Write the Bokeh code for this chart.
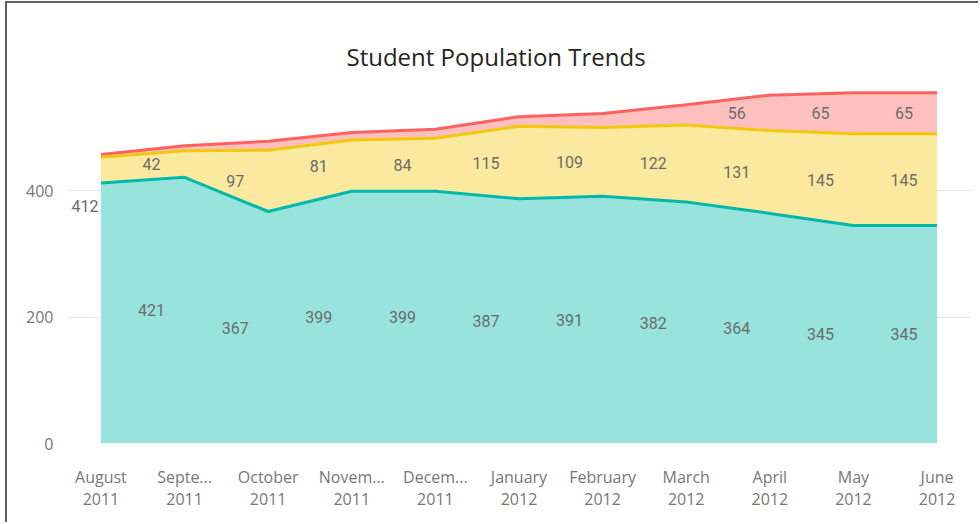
from bokeh.plotting import figure
from bokeh.models import ColumnDataSource, FixedTicker, Range1d
from bokeh.transform import stack
from bokeh.core.properties import value
from bokeh.embed import file_html
from bokeh.resources import INLINE

# ---- data ----
months = ["August\n2011", "Septe...\n2011", "October\n2011", "Novem...\n2011", "Decem...\n2011",
          "January\n2012", "February\n2012", "March\n2012", "April\n2012", "May\n2012", "June\n2012"]
teal_vals = [412, 421, 367, 399, 399, 387, 391, 382, 364, 345, 345]
yellow_vals = [41, 42, 97, 81, 84, 115, 109, 122, 131, 145, 145]
red_vals = [4, 8, 14, 12, 14, 15, 22, 32, 56, 65, 65]
y_ticks = [0, 200, 400]

TEAL, YELLOW, RED = "#01B8AA", "#F2C80F", "#FD625E"
TEAL_F, YELLOW_F, RED_F = "#99E3DD", "#FAE99F", "#FEC0BF"

xs = list(range(len(months)))
src = ColumnDataSource(dict(x=xs, teal=teal_vals, yellow=yellow_vals, red=red_vals))

p = figure(width=973, height=521, output_backend="svg", toolbar_location=None,
           x_range=Range1d(-0.4, len(months) - 0.6), y_range=Range1d(0, 560),
           min_border_left=60, min_border_right=10, min_border_top=86, min_border_bottom=81)
p.styles = {"margin-left": "5px", "margin-top": "1px",
            "border-left": "2px solid #5f5f5f", "border-top": "2px solid #5f5f5f"}

p.title.text = "Student Population Trends"
p.title.align = "left"
p.title.offset = 279
p.title.text_font = "Open Sans"
p.title.text_font_size = "24px"
p.title.text_font_style = "normal"
p.title.text_color = "#252423"
p.title.standoff = 34

p.varea_stack(stackers=["teal", "yellow", "red"], x="x", color=[TEAL_F, YELLOW_F, RED_F], source=src)
p.line(x="x", y=stack("teal", "yellow", "red"), line_color=RED, line_width=3, source=src)
p.line(x="x", y=stack("teal", "yellow"), line_color=YELLOW, line_width=3, source=src)
p.line(x="x", y=stack("teal"), line_color=TEAL, line_width=3, source=src)

# data labels (centered in each band)
lab_x, lab_y, lab_t = [], [], []
for i in xs:
    if i > 0:
        lab_x.append(i); lab_y.append(teal_vals[i] / 2); lab_t.append(str(teal_vals[i]))
        lab_x.append(i); lab_y.append(teal_vals[i] + yellow_vals[i] / 2); lab_t.append(str(yellow_vals[i]))
    if red_vals[i] >= 40:
        lab_x.append(i); lab_y.append(teal_vals[i] + yellow_vals[i] + red_vals[i] / 2); lab_t.append(str(red_vals[i]))
lab_src = ColumnDataSource(dict(x=lab_x, y=lab_y, t=lab_t))
p.text(x="x", y="y", text="t", source=lab_src, x_offset=-33, text_align="center", text_baseline="middle",
       text_font=value("Roboto"), text_font_size="16px", text_color="#6b6b6b")
# first teal label sits near the top, left of the first point
p.text(x=[0], y=[teal_vals[0]], text=[str(teal_vals[0])], x_offset=-16, y_offset=23,
       text_align="center", text_baseline="middle",
       text_font=value("Roboto"), text_font_size="16px", text_color="#6b6b6b")

p.xgrid.grid_line_color = None
p.ygrid.grid_line_color = "#E6E6E6"
p.ygrid.grid_line_width = 1
p.outline_line_color = None

p.yaxis.ticker = FixedTicker(ticks=y_ticks)
p.xaxis.ticker = FixedTicker(ticks=xs)
p.xaxis.major_label_overrides = {i: m for i, m in enumerate(months)}
for ax in (p.xaxis, p.yaxis):
    ax.axis_line_color = None
    ax.major_tick_line_color = None
    ax.minor_tick_line_color = None
    ax.major_tick_out = 0
    ax.major_tick_in = 0
    ax.major_label_text_font = "Open Sans"
    ax.major_label_text_color = "#777777"
p.xaxis.major_label_text_font_size = "16px"
p.xaxis.major_label_text_line_height = 1.0
p.yaxis.major_label_text_font_size = "16px"
p.xaxis.major_label_standoff = 22
p.yaxis.major_label_standoff = 14

open("out.html", "w").write(file_html(p, INLINE))
